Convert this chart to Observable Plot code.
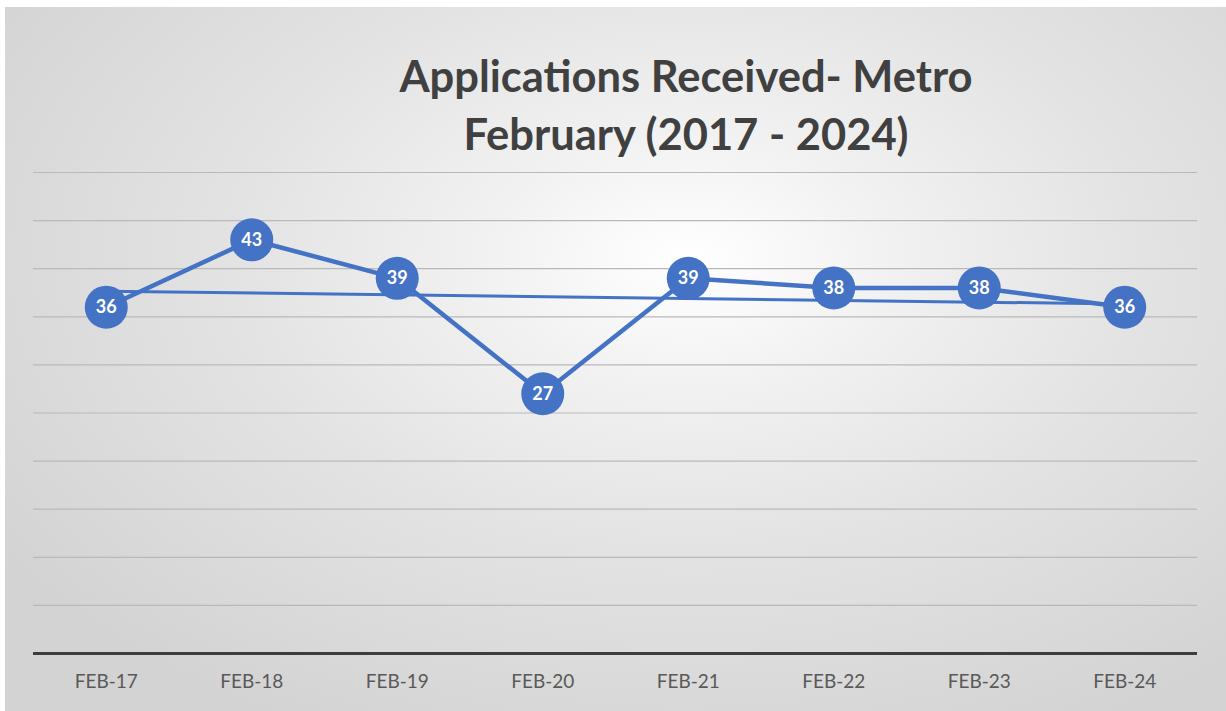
<!DOCTYPE html>
<html>
<head>
<meta charset="utf-8">
<script src="https://cdn.jsdelivr.net/npm/d3@7"></script>
<script src="https://cdn.jsdelivr.net/npm/@observablehq/plot@0.6"></script>
<style>
  html, body { margin: 0; padding: 0; background: #ffffff; }
  #wrap { position: relative; width: 1226px; height: 711px; overflow: hidden; background: #ffffff; font-family: Lato, "Open Sans", sans-serif; }
  #bg { position: absolute; left: 5px; top: 7px; right: 0; bottom: 0;
        background: radial-gradient(ellipse 68% 75% at 56% 36%, #ffffff 0%, #f1f1f1 25%, #e3e3e3 55%, #d3d3d3 100%); }
  #title { position: absolute; left: 286px; top: 46px; width: 800px; text-align: center;
           font-size: 43.5px; line-height: 58px; font-weight: bold; color: #404040; }
  #chart { position: absolute; left: 0; top: 0; }
</style>
</head>
<body>
<div id="wrap">
  <div id="bg"></div>
  <div id="title">Applications Received- Metro<br>February (2017 - 2024)</div>
  <div id="chart"></div>
</div>
<script>
const months = ["FEB-17", "FEB-18", "FEB-19", "FEB-20", "FEB-21", "FEB-22", "FEB-23", "FEB-24"];
const applications = [36, 43, 39, 27, 39, 38, 38, 36];
const gridValues = [5, 10, 15, 20, 25, 30, 35, 40, 45, 50];

const data = months.map((m, i) => ({i, month: m, value: applications[i]}));
const blue = "#4472C4";

const chart = Plot.plot({
  width: 1226,
  height: 711,
  marginTop: 172,
  marginBottom: 58,
  marginLeft: 33,
  marginRight: 29,
  style: {background: "transparent", fontFamily: "Lato, 'Open Sans', sans-serif", overflow: "visible"},
  x: {type: "linear", domain: [-0.5, months.length - 0.5], axis: null, label: null},
  y: {domain: [0, 50], axis: null},
  marks: [
    Plot.ruleY(gridValues, {stroke: "#b9b9b9", strokeWidth: 1.2}),
    Plot.ruleY([0], {stroke: "#3d3d3d", strokeWidth: 3}),
    Plot.axisX(d3.range(months.length), {
      tickSize: 0, tickPadding: 21, tickFormat: i => months[i],
      fontSize: 19, fill: "#595959", anchor: "bottom", label: null
    }),
    Plot.linearRegressionY(data, {x: "i", y: "value", stroke: blue, strokeWidth: 3, ci: 0}),
    Plot.line(data, {x: "i", y: "value", stroke: blue, strokeWidth: 4.5, strokeLinejoin: "round"}),
    Plot.dot(data, {x: "i", y: "value", r: 21.5, fill: blue, stroke: "none"}),
    Plot.text(data, {x: "i", y: "value", text: d => String(d.value), fill: "#ffffff", fontWeight: "bold", fontSize: 18})
  ]
});
document.getElementById("chart").appendChild(chart);
</script>
</body>
</html>
